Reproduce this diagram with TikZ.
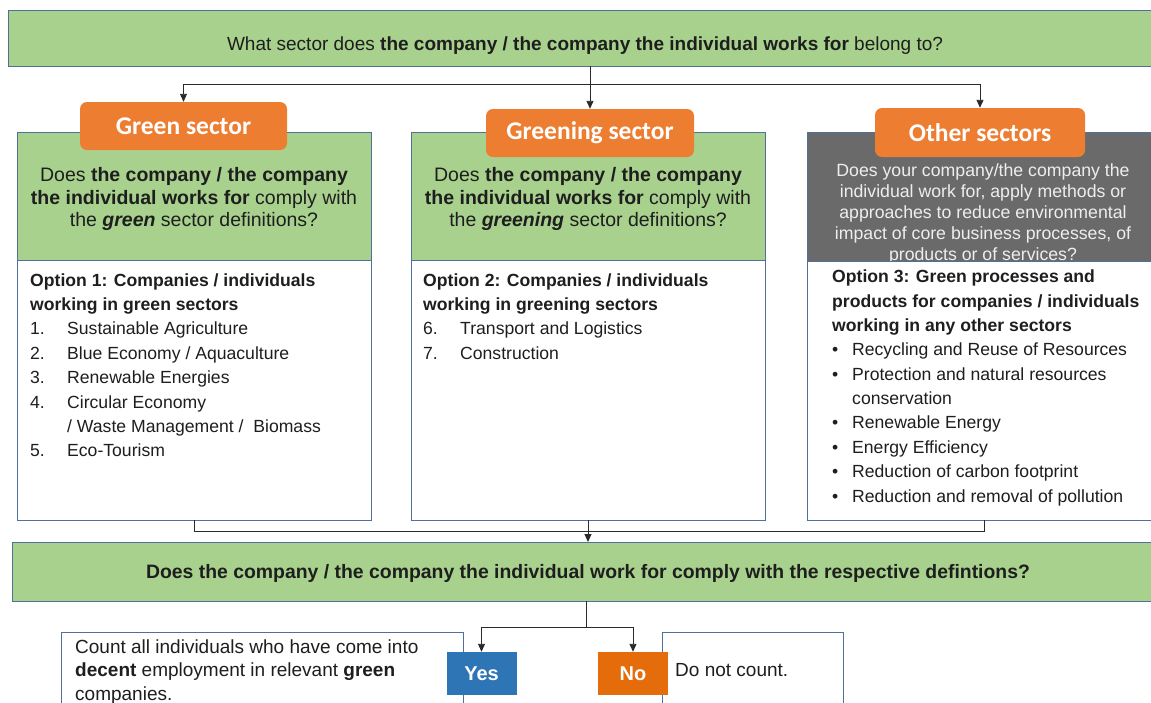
\documentclass[tikz,border=0pt]{standalone}
\usepackage{fontspec}
\setmainfont{Liberation Sans}
\newfontfamily\labelfont{Carlito}
\usetikzlibrary{arrows.meta}
\definecolor{boxgreen}{HTML}{A9D18E}
\definecolor{boxedge}{HTML}{4F6F9C}
\definecolor{tagorange}{HTML}{ED7D31}
\definecolor{noorange}{HTML}{E46C0A}
\definecolor{yesblue}{HTML}{2E75B6}
\definecolor{panelgray}{HTML}{6A6A6A}
\definecolor{graytext}{HTML}{EEEEEE}
\definecolor{ink}{HTML}{1E1E1E}
\definecolor{wire}{HTML}{2A2A2A}
\begin{document}
\begin{tikzpicture}[x=1pt,y=-1pt,
  box/.style={draw=boxedge,line width=0.9pt,inner sep=0pt,outer sep=0pt,anchor=north west},
  greenbox/.style={box,fill=boxgreen},
  whitebox/.style={box,fill=white},
  graybox/.style={box,fill=panelgray},
  tag/.style={fill=tagorange,rounded corners=7pt,inner sep=0pt,text=white,
    font=\labelfont\bfseries\fontsize{25.5}{28}\selectfont},
  answer/.style={inner sep=0pt,text=white,minimum width=70pt,minimum height=43pt,
    font=\bfseries\fontsize{20}{22}\selectfont},
  txt/.style={inner sep=0pt,text=ink},
  wireline/.style={draw=wire,line width=0.9pt},
  arr/.style={wireline,-{Triangle[length=8pt,width=7pt]}}]
\useasboundingbox (0,0) rectangle (1151,702);
\clip (0,0) rectangle (1151,702);

% question at the top
\node[greenbox,minimum width=1154pt,minimum height=56pt] (top) at (8,10) {};
\node[txt,anchor=base,font=\fontsize{19}{22}\selectfont] (toptext) at (585,50)
  {What sector does \textbf{the company / the company the individual works for} belong to?};

% three sector columns (multi-line texts are placed by the baseline of their last line)
\node[greenbox,minimum width=354pt,minimum height=128pt] (q1) at (17,132) {};
\node[whitebox,minimum width=354pt,minimum height=260pt] (o1) at (17,260) {};
\node[greenbox,minimum width=354pt,minimum height=128pt] (q2) at (411,132) {};
\node[whitebox,minimum width=354pt,minimum height=260pt] (o2) at (411,260) {};
\node[graybox,minimum width=354pt,minimum height=129pt] (q3) at (807,132) {};

\node[txt,anchor=base,align=center,font=\fontsize{19.5}{22.5}\selectfont] (q1text) at (194,226.5)
  {Does \textbf{the company / the company}\\
   \textbf{the individual works for} comply with\\
   the \textbf{\textit{green}} sector definitions?};
\node[txt,anchor=base,align=center,font=\fontsize{19.5}{22.5}\selectfont] (q2text) at (588,226.5)
  {Does \textbf{the company / the company}\\
   \textbf{the individual works for} comply with\\
   the \textbf{\textit{greening}} sector definitions?};
\node[txt,text=graytext,anchor=base,align=center,font=\fontsize{17.7}{21}\selectfont] (q3text) at (983,260)
  {Does your company/the company the\\
   individual work for, apply methods or\\
   approaches to reduce environmental\\
   impact of core business processes, of\\
   products or of services?};
\node[whitebox,minimum width=354pt,minimum height=259pt] (o3) at (807,261) {};

% option lists
\node[txt,anchor=base west,align=left,font=\fontsize{17.6}{24.4}\selectfont] (o1text) at (30,456.8)
  {\textbf{Option 1: Companies / individuals}\\
   \textbf{working in green sectors}\\
   \makebox[37pt][l]{1.}Sustainable Agriculture\\
   \makebox[37pt][l]{2.}Blue Economy / Aquaculture\\
   \makebox[37pt][l]{3.}Renewable Energies\\
   \makebox[37pt][l]{4.}Circular Economy\\
   \hspace*{37pt}/ Waste Management /\ \ Biomass\\
   \makebox[37pt][l]{5.}Eco-Tourism};
\node[txt,anchor=base west,align=left,font=\fontsize{17.6}{24.4}\selectfont] (o2text) at (423,359.2)
  {\textbf{Option 2: Companies / individuals}\\
   \textbf{working in greening sectors}\\
   \makebox[37pt][l]{6.}Transport and Logistics\\
   \makebox[37pt][l]{7.}Construction};
\node[txt,anchor=base west,align=left,font=\fontsize{17.6}{24.35}\selectfont] (o3text) at (832,502)
  {\textbf{Option 3: Green processes and}\\
   \textbf{products for companies / individuals}\\
   \textbf{working in any other sectors}\\
   \makebox[20pt][l]{\textbullet}Recycling and Reuse of Resources\\
   \makebox[20pt][l]{\textbullet}Protection and natural resources\\
   \hspace*{20pt}conservation\\
   \makebox[20pt][l]{\textbullet}Renewable Energy\\
   \makebox[20pt][l]{\textbullet}Energy Efficiency\\
   \makebox[20pt][l]{\textbullet}Reduction of carbon footprint\\
   \makebox[20pt][l]{\textbullet}Reduction and removal of pollution};

% sector tags
\node[tag,minimum width=207pt,minimum height=48pt] (g1) at (183.5,126) {Green sector};
\node[tag,minimum width=208pt,minimum height=48pt] (g2) at (590,133) {Greening sector};
\node[tag,minimum width=210pt,minimum height=49pt] (g3) at (980,132.5) {Other sectors};

% compliance question
\node[greenbox,minimum width=1152pt,minimum height=59pt] (bot) at (12,542) {};
\node[txt,anchor=base,font=\bfseries\fontsize{19.4}{22}\selectfont] (bottext) at (588,578)
  {Does the company / the company the individual work for comply with the respective defintions?};

% outcomes
\node[whitebox,minimum width=402pt,minimum height=90pt] (count) at (61,632) {};
\node[txt,anchor=base west,align=left,font=\fontsize{19}{23.5}\selectfont] (counttext) at (75,700)
  {Count all individuals who have come into\\
   \textbf{decent} employment in relevant \textbf{green}\\
   companies.};
\node[whitebox,minimum width=181pt,minimum height=90pt] (skip) at (662,632) {};
\node[txt,anchor=base west,font=\fontsize{19}{22}\selectfont] (skiptext) at (675,676) {Do not count.};
\node[answer,fill=yesblue] (yes) at (481.5,673.5) {Yes};
\node[answer,fill=noorange] (no) at (633,673.5) {No};

% connectors
\coordinate (split) at (590,84);
\draw[wireline] (top.south -| split) -- (split);
\draw[arr] (split) -| (g1.north);
\draw[arr] (split) -| (g3.north);
\draw[arr] (split) -- (g2.north);

\coordinate (merge) at (588,531);
\draw[wireline] (o1.south) |- (merge);
\draw[wireline] (o3.south) |- (merge);
\draw[arr] (o2.south) -- (bot.north -| o2.south);

\coordinate (fork) at (586,627);
\draw[wireline] (bot.south -| fork) -- (fork);
\draw[arr] (fork) -| (yes.north);
\draw[arr] (fork) -| (no.north);
\end{tikzpicture}
\end{document}
